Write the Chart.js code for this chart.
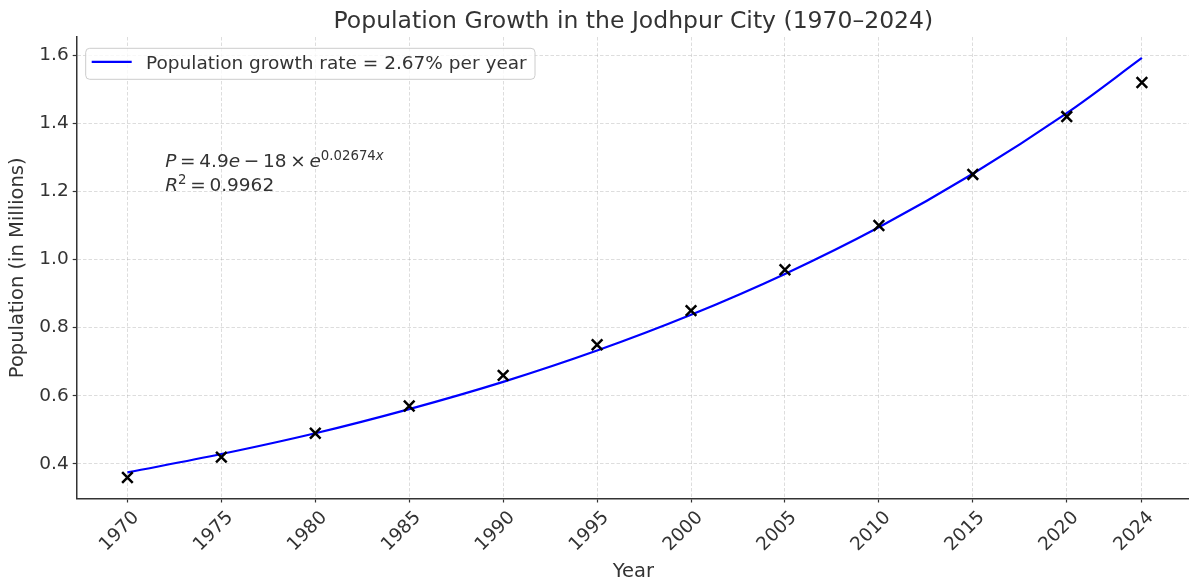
<!DOCTYPE html>
<html><head><meta charset="utf-8">
<script src="https://cdn.jsdelivr.net/npm/chart.js@4.4.1/dist/chart.umd.min.js"></script>
<style>html,body{margin:0;padding:0;background:#fff;overflow:hidden;width:1189px;height:586px}#wrap{width:1200px;height:586px;position:relative}</style>
</head><body><div id="wrap"><canvas id="c"></canvas></div>
<script>
const titleText = 'Population Growth in the Jodhpur City (1970–2024)';
const xAxisLabel = 'Year';
const yAxisLabel = 'Population (in Millions)';
const legendLabel = 'Population growth rate = 2.67% per year';
const years = [1970, 1975, 1980, 1985, 1990, 1995, 2000, 2005, 2010, 2015, 2020, 2024];
const population = [0.36, 0.42, 0.49, 0.57, 0.66, 0.75, 0.85, 0.97, 1.10, 1.25, 1.42, 1.52];
const fitYears = [1970, 1975, 1980, 1985, 1990, 1995, 2000, 2005, 2010, 2015, 2020, 2024];
const fitValues = [0.375, 0.429, 0.490, 0.561, 0.641, 0.733, 0.838, 0.958, 1.095, 1.252, 1.430, 1.592];
const xTickLabels = [1970, 1975, 1980, 1985, 1990, 1995, 2000, 2005, 2010, 2015, 2020, 2024];
const yTickLabels = [0.4, 0.6, 0.8, 1.0, 1.2, 1.4, 1.6];
const equationLine1 = [
  {t: 'P', it: true}, {t: '=', op: true}, {t: '4.9'}, {t: 'e', it: true}, {t: '\u2212', op: true},
  {t: '18'}, {t: '\u00d7', op: true}, {t: 'e', it: true}, {t: '0.02674', sup: true}, {t: 'x', it: true, sup: true}
];
const equationLine2 = [{t: 'R', it: true}, {t: '2', sup: true}, {t: '=', op: true}, {t: '0.9962'}];

const FONT = '"DejaVu Sans", "Liberation Sans", sans-serif';
const TXT = '#333333';

function drawMath(ctx, x, y, segs, size) {
  ctx.textAlign = 'left';
  ctx.textBaseline = 'alphabetic';
  for (const s of segs) {
    const fs = s.sup ? size * 0.72 : size;
    ctx.font = (s.it ? 'italic ' : '') + fs + 'px ' + FONT;
    if (s.op) x += size * 0.2;
    const yy = s.sup ? y - size * 0.38 : y;
    ctx.fillText(s.t, x, yy);
    x += ctx.measureText(s.t).width;
    if (s.op) x += size * 0.2;
  }
}

const extras = {
  id: 'extras',
  afterDraw(chart) {
    const ctx = chart.ctx, a = chart.chartArea;
    ctx.save();
    // title
    ctx.font = '23.5px ' + FONT;
    ctx.fillStyle = TXT;
    ctx.textAlign = 'center';
    ctx.textBaseline = 'alphabetic';
    ctx.fillText(titleText, (a.left + a.right) / 2, 28.3);
    // legend
    ctx.font = '18.5px ' + FONT;
    const bx = a.left + 9, by = a.top + 11.3, bh = 31;
    const tx = bx + 60.3;
    const tw = ctx.measureText(legendLabel).width;
    const bw = tx + tw + 8.3 - bx;
    ctx.beginPath();
    if (ctx.roundRect) ctx.roundRect(bx, by, bw, bh, 4); else ctx.rect(bx, by, bw, bh);
    ctx.fillStyle = 'rgba(255,255,255,0.8)';
    ctx.fill();
    ctx.strokeStyle = '#cccccc';
    ctx.lineWidth = 1;
    ctx.stroke();
    ctx.beginPath();
    ctx.moveTo(bx + 6, by + 13.5);
    ctx.lineTo(bx + 46, by + 13.5);
    ctx.strokeStyle = '#0000ff';
    ctx.lineWidth = 2.2;
    ctx.stroke();
    ctx.fillStyle = TXT;
    ctx.textAlign = 'left';
    ctx.fillText(legendLabel, tx, by + 21);
    // equation annotation
    ctx.fillStyle = TXT;
    drawMath(ctx, a.left + 88.5, a.top + 130.3, equationLine1, 18.5);
    drawMath(ctx, a.left + 88.5, a.top + 153.7, equationLine2, 18.5);
    ctx.restore();
  }
};

const gridColor = 'rgba(170,170,170,0.5)';

new Chart(document.getElementById('c'), {
  type: 'scatter',
  data: {
    datasets: [
      {
        label: 'Data',
        data: years.map((y, i) => ({x: y, y: population[i]})),
        pointStyle: 'crossRot',
        pointRadius: 7.5,
        pointHoverRadius: 7.5,
        pointBorderWidth: 2.5,
        borderColor: '#000000',
        backgroundColor: '#000000',
        showLine: false,
        order: 0
      },
      {
        label: legendLabel,
        type: 'line',
        data: fitYears.map((y, i) => ({x: y, y: fitValues[i]})),
        borderColor: '#0000ff',
        borderWidth: 2.2,
        pointRadius: 0,
        showLine: true,
        fill: false,
        tension: 0.35,
        order: 1
      }
    ]
  },
  options: {
    responsive: true,
    maintainAspectRatio: false,
    animation: false,
    devicePixelRatio: 1,
    layout: {padding: {top: 37, left: 0, right: 0, bottom: 0}},
    plugins: {legend: {display: false}, tooltip: {enabled: false}, title: {display: false}},
    scales: {
      x: {
        type: 'linear',
        min: 1967.30,
        max: 2026.56,
        afterBuildTicks: s => { s.ticks = xTickLabels.map(v => ({value: v})); },
        afterFit: s => { s.height = 87.5; s.paddingLeft = 0; s.paddingRight = 0; },
        ticks: {
          autoSkip: false, minRotation: 45, maxRotation: 45,
          font: {family: FONT, size: 18.5}, color: TXT,
          padding: 4.5, labelOffset: 8.8,
          callback: v => String(v)
        },
        grid: {color: gridColor, lineWidth: 0.8, tickLength: 4, tickColor: '#333', tickWidth: 1.2, tickBorderDash: []},
        border: {display: true, color: '#333', width: 1.5, dash: [3.5, 2]},
        title: {display: true, text: xAxisLabel, font: {family: FONT, size: 19.5}, color: TXT, padding: {top: 0, bottom: 2}}
      },
      y: {
        type: 'linear',
        min: 0.2984,
        max: 1.6536,
        afterBuildTicks: s => { s.ticks = yTickLabels.map(v => ({value: v})); },
        afterFit: s => { s.width = 76.7; s.paddingTop = 0; s.paddingBottom = 0; },
        ticks: {font: {family: FONT, size: 18.5}, color: TXT, padding: 4, callback: v => Number(v).toFixed(1)},
        grid: {color: gridColor, lineWidth: 0.8, tickLength: 4, tickColor: '#333', tickWidth: 1.2, tickBorderDash: []},
        border: {display: true, color: '#333', width: 1.5, dash: [3.5, 2]},
        title: {display: true, text: yAxisLabel, font: {family: FONT, size: 19.5}, color: TXT, padding: {top: 6.5, bottom: 0}}
      }
    }
  },
  plugins: [extras]
});
</script>
</body></html>
